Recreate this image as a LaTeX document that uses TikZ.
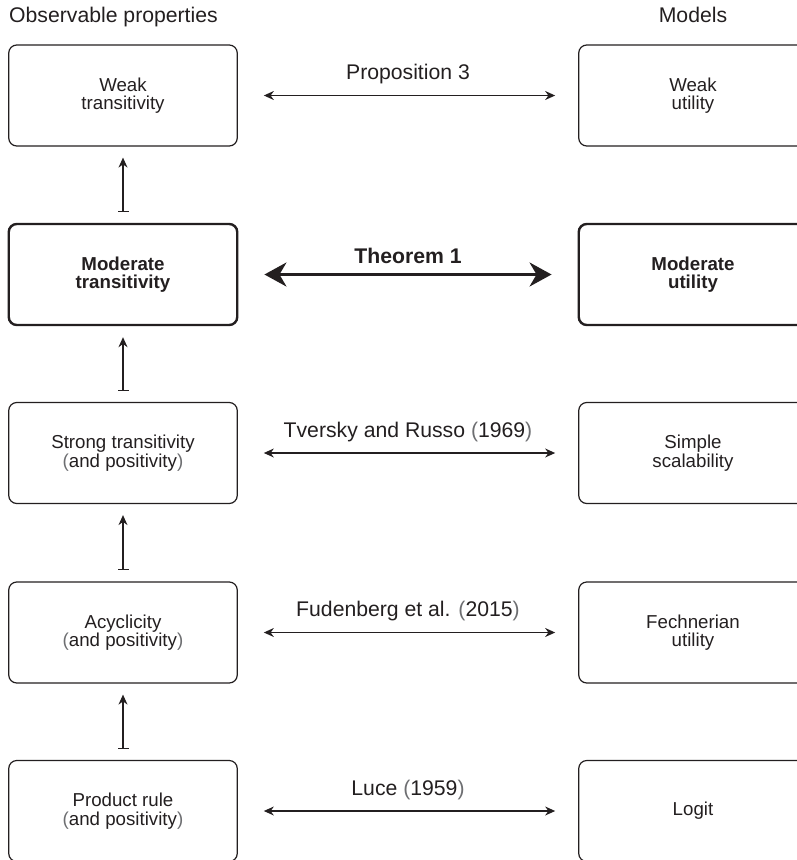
\documentclass[tikz,border=0pt]{standalone}
\usepackage{fontspec}
\setmainfont{Liberation Sans}
\usetikzlibrary{arrows.meta}
\definecolor{ink}{HTML}{231F20}
\definecolor{pgray}{HTML}{6D6E71}
\newcommand\lpar{{\color{pgray}(}}
\newcommand\rpar{{\color{pgray})}}
\tikzset{
  box/.style={draw=ink,text=ink,line width=1.2pt,rounded corners=8pt,
    minimum width=228.5pt,minimum height=101pt,align=center,inner sep=0pt,
    font=\fontsize{18.7}{18.6}\selectfont},
  bbox/.style={box,line width=2.4pt,font=\fontsize{18.7}{18.6}\selectfont\bfseries},
  link/.style={draw=ink,line width=1.2pt,{Stealth[length=10pt,width=9pt]}-{Stealth[length=10pt,width=9pt]},
    shorten <=26pt,shorten >=23pt},
  blink/.style={draw=ink,line width=2.8pt,{Stealth[length=22pt,width=24pt,inset=7pt]}-{Stealth[length=22pt,width=24pt,inset=7pt]},
    shorten <=26pt,shorten >=26pt},
  imp/.style={draw=ink,line width=1.2pt,{Bar[width=11pt]}-{Stealth[length=10pt,width=9pt]},
    shorten <=11pt,shorten >=11pt},
  lab/.style={text=ink,font=\fontsize{21.2}{21}\selectfont,inner sep=0pt},
  head/.style={text=ink,font=\fontsize{21.2}{21}\selectfont,inner sep=0pt}
}
\begin{document}
\begin{tikzpicture}[x=1pt,y=-1pt]
\useasboundingbox (0,0) rectangle (797,860);
\node[head,anchor=base west] (obs) at (9,22) {Observable properties};
\node[head,anchor=base] (mod) at (693,22) {Models};
% observable properties
\node[box] (weakt) at (123,95.5) {Weak\\transitivity};
\node[bbox] (modt) at (123,274.5) {Moderate\\transitivity};
\node[box] (strongt) at (123,453) {Strong transitivity\\\lpar and positivity\rpar};
\node[box] (acyc) at (123,632.5) {Acyclicity\\\lpar and positivity\rpar};
\node[box] (prod) at (123,811) {Product rule\\\lpar and positivity\rpar};
% models
\node[box] (weaku) at (693,95.5) {Weak\\utility};
\node[bbox] (modu) at (693,274.5) {Moderate\\utility};
\node[box] (simple) at (693,453) {Simple\\scalability};
\node[box] (fech) at (693,632.5) {Fechnerian\\utility};
\node[box] (logit) at (693,811) {Logit};
\draw[link] (weakt)--(weaku) node[lab,midway,above=11pt] (prop) {Proposition 3};
\draw[blink] (modt)--(modu) node[lab,midway,above=9pt,font=\fontsize{21.2}{21}\selectfont\bfseries] (thm) {Theorem 1};
\draw[link] (strongt)--(simple) node[lab,midway,above=11pt] (tr) {Tversky and Russo \lpar 1969\rpar};
\draw[link] (acyc)--(fech) node[lab,midway,above=11pt] (fud) {Fudenberg et al. \lpar 2015\rpar};
\draw[link] (prod)--(logit) node[lab,midway,above=11pt] (luce) {Luce \lpar 1959\rpar};
\draw[imp] (modt)--(weakt);
\draw[imp] (strongt)--(modt);
\draw[imp] (acyc)--(strongt);
\draw[imp] (prod)--(acyc);
\end{tikzpicture}
\end{document}
